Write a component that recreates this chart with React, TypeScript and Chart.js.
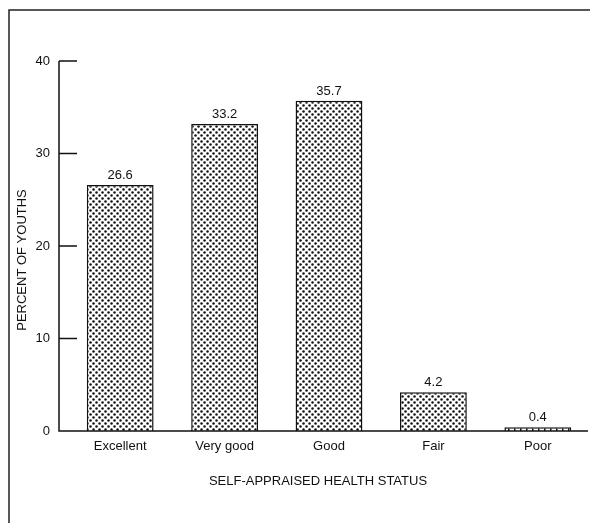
import React, { useEffect, useRef } from "react";
import { Chart, registerables } from "chart.js";

Chart.register(...registerables);

const categories = ["Excellent", "Very good", "Good", "Fair", "Poor"];
const percentValues = [26.6, 33.2, 35.7, 4.2, 0.4];
const valueLabels = ["26.6", "33.2", "35.7", "4.2", "0.4"];
const yTicks = [0, 10, 20, 30, 40];
const yTitle = "PERCENT OF YOUTHS";
const xTitle = "SELF-APPRAISED HEALTH STATUS";

const FONT = "'Liberation Sans', Arial, Helvetica, sans-serif";
const AXIS_GAP = 9; // axis line sits left of the plot area

function makeDotPattern(): CanvasPattern | string {
  const c = document.createElement("canvas");
  c.width = 6;
  c.height = 6;
  const ctx = c.getContext("2d");
  if (!ctx) return "#999";
  ctx.fillStyle = "#fff";
  ctx.fillRect(0, 0, 6, 6);
  ctx.fillStyle = "#111";
  const dots = [
    [1.5, 1.5],
    [4.5, 4.5],
  ];
  for (const [x, y] of dots) {
    ctx.beginPath();
    ctx.arc(x, y, 1.25, 0, Math.PI * 2);
    ctx.fill();
  }
  return ctx.createPattern(c, "repeat") || "#999";
}

function makeHatchPattern(): CanvasPattern | string {
  const c = document.createElement("canvas");
  c.width = 6;
  c.height = 6;
  const ctx = c.getContext("2d");
  if (!ctx) return "#999";
  ctx.fillStyle = "#fff";
  ctx.fillRect(0, 0, 6, 6);
  ctx.fillStyle = "#111";
  ctx.fillRect(2, 0, 1.5, 6);
  return ctx.createPattern(c, "repeat") || "#999";
}

const decorPlugin = {
  id: "decor",
  beforeDraw(chart: any) {
    const ctx = chart.ctx;
    ctx.save();
    ctx.fillStyle = "#fff";
    ctx.fillRect(0, 0, chart.width, chart.height);
    ctx.strokeStyle = "#222";
    ctx.lineWidth = 1.5;
    ctx.beginPath();
    ctx.moveTo(1, chart.height);
    ctx.lineTo(1, 2);
    ctx.lineTo(chart.width, 2);
    ctx.stroke();
    ctx.restore();
  },
  afterDatasetsDraw(chart: any) {
    const ctx = chart.ctx;
    const yScale = chart.scales.y;
    const xScale = chart.scales.x;
    const area = chart.chartArea;
    const axisX = area.left - AXIS_GAP;
    ctx.save();
    ctx.strokeStyle = "#111";
    ctx.lineWidth = 1.5;
    // axis lines
    const y0 = yScale.getPixelForValue(0);
    const y40 = yScale.getPixelForValue(40);
    ctx.beginPath();
    ctx.moveTo(axisX, y40);
    ctx.lineTo(axisX, y0);
    ctx.lineTo(xScale.right - 2, y0);
    ctx.stroke();
    // inward tick marks
    for (const t of yTicks) {
      if (t === 0) continue;
      const py = yScale.getPixelForValue(t);
      ctx.beginPath();
      ctx.moveTo(axisX, py);
      ctx.lineTo(axisX + 18, py);
      ctx.stroke();
    }
    // value labels
    ctx.fillStyle = "#111";
    ctx.font = `13px ${FONT}`;
    ctx.textAlign = "center";
    ctx.textBaseline = "bottom";
    const meta = chart.getDatasetMeta(0);
    meta.data.forEach((bar: any, i: number) => {
      ctx.fillText(valueLabels[i], bar.x, bar.y - 3);
    });
    // x title
    ctx.textBaseline = "middle";
    ctx.fillText(xTitle, 310, area.bottom + 50);
    // y title
    ctx.translate(14, (area.top + area.bottom) / 2 + 14);
    ctx.rotate(-Math.PI / 2);
    ctx.fillText(yTitle, 0, 0);
    ctx.restore();
  },
};

export default function App() {
  const ref = useRef<HTMLCanvasElement | null>(null);
  useEffect(() => {
    if (!ref.current) return;
    const dots = makeDotPattern();
    const hatch = makeHatchPattern();
    const chart = new Chart(ref.current, {
      type: "bar",
      data: {
        labels: categories,
        datasets: [
          {
            data: percentValues,
            backgroundColor: [dots, dots, dots, dots, hatch] as any,
            borderColor: "#111",
            borderWidth: 1.5,
            borderSkipped: "bottom",
            barPercentage: 0.64,
            categoryPercentage: 1,
          },
        ],
      },
      options: {
        animation: false,
        responsive: false,
        maintainAspectRatio: false,
        layout: { padding: { left: 0, top: 53, right: 0, bottom: 0 } },
        plugins: {
          legend: { display: false },
          tooltip: { enabled: false },
        },
        scales: {
          x: {
            grid: { display: false, drawTicks: false },
            border: { display: false },
            ticks: {
              color: "#111",
              font: { family: FONT, size: 13 },
              padding: 8,
            },
            afterFit(scale: any) {
              scale.height = 92;
            },
          },
          y: {
            min: 0,
            max: 40,
            grid: { display: false, drawTicks: false },
            border: { display: false },
            ticks: {
              stepSize: 10,
              color: "#111",
              font: { family: FONT, size: 13 },
              padding: 18,
            },
            afterFit(scale: any) {
              scale.width = 60;
            },
          },
        },
      },
      plugins: [decorPlugin],
    });
    return () => chart.destroy();
  }, []);
  return (
    <div style={{ position: "absolute", left: 8, top: 8, width: 582, height: 515 }}>
      <canvas ref={ref} width={582} height={515} style={{ display: "block" }} />
    </div>
  );
}
